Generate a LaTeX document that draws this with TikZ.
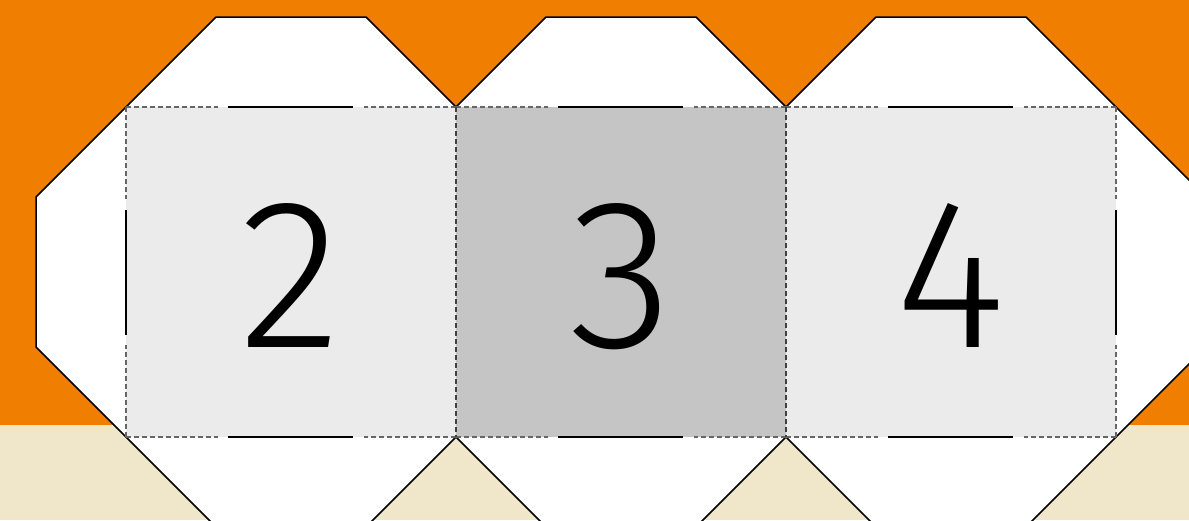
\documentclass[tikz,border=0pt]{standalone}
\usepackage{fontspec}
\setmainfont{Fira Sans}
\newfontfamily\digitfont{Fira Sans Light}
\definecolor{orangebg}{HTML}{F07E00}
\definecolor{beigebg}{HTML}{F0E6C9}
\definecolor{lightcell}{HTML}{EBEBEB}
\definecolor{darkcell}{HTML}{C4C5C4}
\begin{document}
\begin{tikzpicture}[x=1pt,y=-1pt]
  \tikzstyle{octa}=[draw=black,fill=white,line width=1.5pt,line join=miter]
  \tikzstyle{celledge}=[draw=black!60,line width=1.1pt,dash pattern=on 5pt off 3pt]
  \tikzstyle{edgebar}=[draw=black,line width=2pt]
  \tikzstyle{digit}=[font=\digitfont\fontsize{213}{213}\selectfont,anchor=base,inner sep=0pt]
  \useasboundingbox (0,0) rectangle (1189,520);
  \begin{scope}
    \clip (0,0) rectangle (1189,520);
    \fill[orangebg] (0,0) rectangle (1189,425);
    \fill[beigebg] (0,425) rectangle (1189,520);
    % white octagons behind the cells
    \foreach \cx in {291,621,951} {
      \draw[octa] (\cx-75,17) -- (\cx+75,17) -- (\cx+255,197) -- (\cx+255,347)
        -- (\cx+75,527) -- (\cx-75,527) -- (\cx-255,347) -- (\cx-255,197) -- cycle;
    }
  \end{scope}
  % cells: dashed top and bottom with a solid middle bar
  \foreach \cx/\n/\col in {291/2/lightcell,621/3/darkcell,951/4/lightcell} {
    \fill[\col] (\cx-165,107) rectangle (\cx+165,437);
    \foreach \y in {107,437} {
      \draw[celledge] (\cx-165,\y) -- (\cx-73,\y);
      \draw[celledge] (\cx+165,\y) -- (\cx+73,\y);
      \draw[edgebar] (\cx-63,\y) -- (\cx+62,\y);
    }
    \node[digit] (cell\n) at (\cx,347) {\n};
  }
  % shared sides stay dashed
  \foreach \x in {456,786}
    \draw[celledge,draw=black!75] (\x,107) -- (\x,437);
  % outer sides
  \foreach \x in {126,1116} {
    \draw[celledge] (\x,107) -- (\x,199);
    \draw[celledge] (\x,437) -- (\x,345);
    \draw[edgebar] (\x,210) -- (\x,335);
  }
\end{tikzpicture}
\end{document}
